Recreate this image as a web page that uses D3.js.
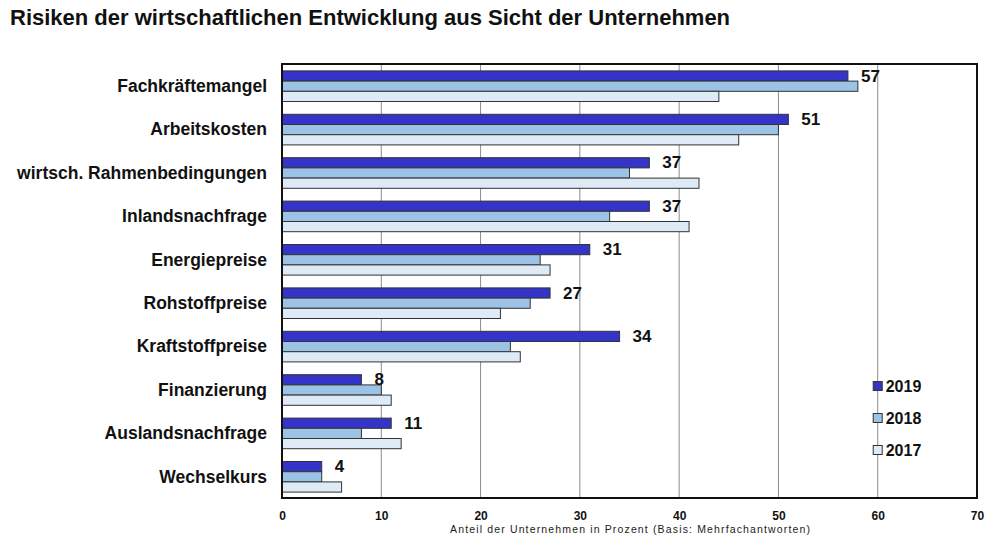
<!DOCTYPE html>
<html>
<head>
<meta charset="utf-8">
<script src="https://cdn.jsdelivr.net/npm/d3@7/dist/d3.min.js"></script>
<style>
  body { margin: 0; background: #fff; }
  svg { display: block; font-family: "Liberation Sans", Arial, sans-serif; }
  .cat { font-weight: bold; font-size: 17.5px; fill: #111; }
  .val { font-weight: bold; font-size: 17px; fill: #111; }
  .tick-label { font-weight: bold; font-size: 12px; fill: #111; }
  .leg { font-weight: bold; font-size: 16px; fill: #111; }
</style>
</head>
<body>
<div id="chart"></div>
<script>
// Categories, top to bottom
var categories = ['Fachkräftemangel', 'Arbeitskosten', 'wirtsch. Rahmenbedingungen',
  'Inlandsnachfrage', 'Energiepreise', 'Rohstoffpreise', 'Kraftstoffpreise',
  'Finanzierung', 'Auslandsnachfrage', 'Wechselkurs'];

var years = ['2019', '2018', '2017'];

// Anteil der Unternehmen in Prozent
var values2019 = [57, 51, 37, 37, 31, 27, 34, 8, 11, 4];
var values2018 = [58, 50, 35, 33, 26, 25, 23, 10, 8, 4];
var values2017 = [44, 46, 42, 41, 27, 22, 24, 11, 12, 6];

var xTicks = [0, 10, 20, 30, 40, 50, 60, 70];

var colors = {'2019': '#3434c8', '2018': '#9cc3e6', '2017': '#dfeaf7'};

var series = {'2019': values2019, '2018': values2018, '2017': values2017};

var width = 1000, height = 535;
var margin = {top: 64, right: 23, bottom: 37, left: 282};

var svg = d3.select('#chart').append('svg')
  .attr('width', width)
  .attr('height', height);

// Title
svg.append('text')
  .attr('x', 10)
  .attr('y', 25)
  .style('font-weight', 'bold')
  .style('font-size', '22px')
  .attr('fill', '#111')
  .text('Risiken der wirtschaftlichen Entwicklung aus Sicht der Unternehmen');

var x = d3.scaleLinear()
  .domain([0, 70])
  .range([margin.left, width - margin.right]);

var y = d3.scaleBand()
  .domain(categories)
  .range([margin.top, height - margin.bottom])
  .paddingInner(0.295)
  .paddingOuter(0.1475);

var yInner = d3.scaleBand()
  .domain(years)
  .range([0, y.bandwidth()]);

// Gridlines
svg.append('g').selectAll('line')
  .data(xTicks.filter(function(d) { return d > 0 && d < 70; }))
  .enter().append('line')
  .attr('x1', function(d) { return x(d); })
  .attr('x2', function(d) { return x(d); })
  .attr('y1', margin.top)
  .attr('y2', height - margin.bottom)
  .attr('stroke', '#8c8c8c')
  .attr('stroke-width', 1);

// Bars
var groups = svg.append('g').selectAll('g')
  .data(categories).enter()
  .append('g')
  .attr('transform', function(d) { return 'translate(0,' + y(d) + ')'; });

groups.selectAll('rect')
  .data(function(d, i) {
    return years.map(function(yr) { return {year: yr, value: series[yr][i]}; });
  })
  .enter().append('rect')
  .attr('x', x(0))
  .attr('y', function(d) { return yInner(d.year) + 0.5; })
  .attr('width', function(d) { return x(d.value) - x(0); })
  .attr('height', yInner.bandwidth())
  .attr('fill', function(d) { return colors[d.year]; })
  .attr('stroke', '#333')
  .attr('stroke-width', 1);

// Value labels for 2019
groups.append('text')
  .attr('class', 'val')
  .attr('x', function(d, i) { return x(values2019[i]) + 13; })
  .attr('y', yInner('2019') + yInner.bandwidth() / 2)
  .attr('dy', '0.36em')
  .text(function(d, i) { return values2019[i]; });

// Category labels
groups.append('text')
  .attr('class', 'cat')
  .attr('x', margin.left - 15)
  .attr('y', y.bandwidth() / 2)
  .attr('dy', '0.36em')
  .attr('text-anchor', 'end')
  .text(function(d) { return d; });

// Plot frame
svg.append('rect')
  .attr('x', margin.left)
  .attr('y', margin.top)
  .attr('width', x(70) - x(0))
  .attr('height', height - margin.bottom - margin.top)
  .attr('fill', 'none')
  .attr('stroke', '#111')
  .attr('stroke-width', 2);

// X axis labels
var xAxis = d3.axisBottom(x)
  .tickValues(xTicks)
  .tickSize(0)
  .tickPadding(13);

var axisG = svg.append('g')
  .attr('transform', 'translate(0,' + (height - margin.bottom) + ')')
  .call(xAxis);
axisG.select('.domain').remove();
axisG.selectAll('text')
  .attr('class', 'tick-label')
  .style('font-family', '"Liberation Sans", Arial, sans-serif');

// Axis title at the bottom edge
svg.append('text')
  .attr('x', 630)
  .attr('y', 532.5)
  .attr('text-anchor', 'middle')
  .attr('textLength', 360)
  .attr('lengthAdjust', 'spacing')
  .style('font-size', '10.5px')
  .attr('fill', '#222')
  .text('Anteil der Unternehmen in Prozent (Basis: Mehrfachantworten)');

// Legend
var legend = svg.append('g').selectAll('g')
  .data(years).enter()
  .append('g')
  .attr('transform', function(d, i) { return 'translate(' + x(60) + ',' + (386 + i * 32) + ')'; });

legend.append('rect')
  .attr('x', -4.5)
  .attr('y', -4.5)
  .attr('width', 9)
  .attr('height', 9)
  .attr('fill', function(d) { return colors[d]; })
  .attr('stroke', '#333')
  .attr('stroke-width', 1);

legend.append('text')
  .attr('class', 'leg')
  .attr('x', 8)
  .attr('dy', '0.36em')
  .text(function(d) { return d; });
</script>
</body>
</html>
